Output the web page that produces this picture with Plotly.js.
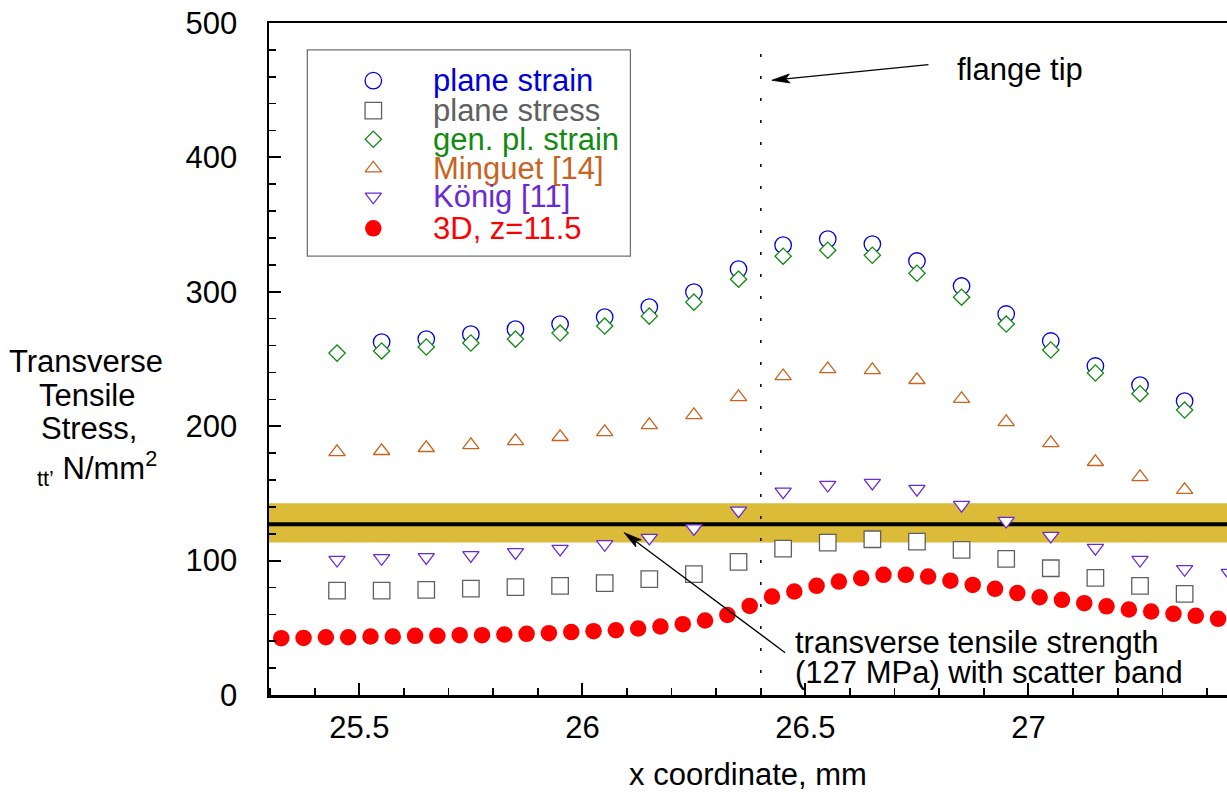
<!DOCTYPE html>
<html>
<head>
<meta charset="utf-8">
<script src="https://cdn.plot.ly/plotly-3.0.1.min.js"></script>
<style>html,body{margin:0;padding:0;background:#fff;}#chart{width:1227px;height:792px;}</style>
</head>
<body>
<div id="chart"></div>
<script>
// ---------- data ----------
const seriesNames = ['plane strain', 'plane stress', 'gen. pl. strain', 'Minguet [14]', 'K\u00f6nig [11]', '3D, z=11.5'];
const seriesColors = ['#0000dd', '#606060', '#128a12', '#c8641e', '#6a2ad6', '#ff0000'];

const xCoord = [25.45, 25.55, 25.65, 25.75, 25.85, 25.95, 26.05, 26.15, 26.25, 26.35, 26.45,
                26.55, 26.65, 26.75, 26.85, 26.95, 27.05, 27.15, 27.25, 27.35, 27.45];
const planeStrain = [null, 262.6, 264.8, 268.5, 272.2, 276.0, 281.2, 288.6, 299.8, 316.9, 334.7,
                     339.2, 335.5, 322.9, 304.3, 283.5, 263.4, 244.8, 230.6, 218.7, null];
const planeStress = [77.7, 77.7, 78.2, 79.2, 80.2, 81.2, 83.2, 86.2, 89.9, 99.0, 108.9,
                     113.4, 115.9, 114.1, 108.0, 101.3, 94.3, 87.1, 81.2, 75.2, null];
const genPlStrain = [254.4, 256.0, 258.9, 261.9, 264.8, 269.3, 274.5, 281.9, 292.3, 309.4, 326.5,
                     330.9, 327.2, 313.8, 296.0, 276.0, 256.7, 239.6, 224.2, 212.0, null];
const minguet = [180.8, 181.6, 183.8, 186.0, 189.0, 192.0, 195.7, 200.9, 208.3, 221.7, 237.3,
                 242.5, 241.8, 234.4, 220.3, 203.1, 187.5, 173.4, 162.2, 152.6, null];
const konig = [100.5, 101.8, 102.5, 104.0, 106.2, 108.7, 112.2, 116.9, 124.0, 137.2, 151.3,
               156.3, 157.8, 153.3, 141.4, 129.5, 118.4, 109.4, 100.5, 93.6, 90.8];

const x3D = [25.325, 25.375, 25.425, 25.475, 25.525, 25.575, 25.625, 25.675, 25.725, 25.775,
             25.825, 25.875, 25.925, 25.975, 26.025, 26.075, 26.125, 26.175, 26.225, 26.275,
             26.325, 26.375, 26.425, 26.475, 26.525, 26.575, 26.625, 26.675, 26.725, 26.775,
             26.825, 26.875, 26.925, 26.975, 27.025, 27.075, 27.125, 27.175, 27.225, 27.275,
             27.325, 27.375, 27.425];
const y3D = [42.3, 42.5, 43.0, 43.0, 43.5, 43.5, 44.0, 44.0, 44.5, 44.5,
             45.0, 45.5, 46.0, 46.8, 47.5, 48.2, 49.5, 51.0, 52.7, 55.4,
             59.6, 66.3, 73.2, 77.0, 81.2, 84.4, 86.9, 89.4, 89.4, 88.1,
             85.1, 81.9, 79.0, 75.8, 72.7, 70.8, 68.3, 66.0, 63.6, 62.1,
             60.4, 58.9, 56.7];

const strength = 127;          // MPa
const bandLow = 113.4, bandHigh = 142.7;
const flangeTipX = 26.4;

const xTickVals = [25.5, 26, 26.5, 27];
const xTickText = ['25.5', '26', '26.5', '27'];
const yTickVals = [0, 100, 200, 300, 400, 500];
const yTickText = ['0', '100', '200', '300', '400', '500'];

// ---------- styling ----------
const FONT = 'Liberation Sans, Arial, Helvetica, sans-serif';
const FS = 31;
const XRANGE = [25.2975, 27.445], YRANGE = [0, 500];
const PLOT_W = 958, PLOT_H = 672;
const symbols = ['circle-open', 'square-open', 'diamond-open', 'triangle-up-open', 'triangle-down-open', 'circle'];
const msizes = [16.5, 16.5, 12.5, 14.2, 14.2, 16.5];

function openTrace(i, xs, ys, xa, ya) {
  const filled = symbols[i] === 'circle';
  return {
    type: 'scatter', mode: 'markers', x: xs, y: ys, name: seriesNames[i],
    xaxis: xa || 'x', yaxis: ya || 'y', showlegend: false, cliponaxis: true,
    hoverinfo: 'skip',
    marker: {
      symbol: filled ? 'circle' : symbols[i].replace('-open', ''),
      size: msizes[i],
      color: filled ? seriesColors[i] : '#ffffff',
      line: {color: seriesColors[i], width: filled ? 0 : 1.3}
    }
  };
}

const traces = [
  openTrace(0, xCoord, planeStrain),
  openTrace(1, xCoord, planeStress),
  openTrace(2, xCoord, genPlStrain),
  openTrace(3, xCoord, minguet),
  openTrace(4, xCoord, konig),
  openTrace(5, x3D, y3D)
];

// legend (drawn in its own small pixel-scaled overlay axes)
const legW = 324.3, legH = 207.4;
const legSymX = 66.6, legTextX = 124;
const legRows = [31.4, 61.4, 90.0, 119.0, 147.4, 179.0];
for (let i = 0; i < 6; i++) {
  traces.push(openTrace(i, [legSymX], [legRows[i]], 'x2', 'y2'));
}

const annotations = [];
for (let i = 0; i < 6; i++) {
  annotations.push({
    xref: 'x2', yref: 'y2', x: legTextX, y: legRows[i], xanchor: 'left', yanchor: 'middle',
    text: seriesNames[i], showarrow: false, font: {family: FONT, size: FS, color: seriesColors[i]}
  });
}

// y-axis title (multi-line, tight spacing)
const yTitleLines = [
  {t: 'Transverse', x: -0.191, y: 0.496, anchor: 'center'},
  {t: 'Tensile', x: -0.1895, y: 0.4464, anchor: 'center'},
  {t: 'Stress,', x: -0.1879, y: 0.3969, anchor: 'center'},
  {t: '<sub>tt\u2019</sub> N/mm<sup>2</sup>', x: -0.2443, y: 0.337, anchor: 'left'}
];
yTitleLines.forEach(l => annotations.push({
  xref: 'paper', yref: 'paper', x: l.x, y: l.y, xanchor: l.anchor, yanchor: 'middle',
  text: l.t, showarrow: false, font: {family: FONT, size: FS, color: '#000'}
}));

// text labels
annotations.push({
  xref: 'x', yref: 'y', x: 26.8356, y: 465.4, xanchor: 'left', yanchor: 'middle',
  text: 'flange tip', showarrow: false, font: {family: FONT, size: FS, color: '#000'}
});
annotations.push({
  xref: 'x', yref: 'y', x: 26.4724, y: 38.7, xanchor: 'left', yanchor: 'middle',
  text: 'transverse tensile strength', showarrow: false, font: {family: FONT, size: FS, color: '#000'}
});
annotations.push({
  xref: 'x', yref: 'y', x: 26.4724, y: 16.4, xanchor: 'left', yanchor: 'middle',
  text: '(127 MPa) with scatter band', showarrow: false, font: {family: FONT, size: FS, color: '#000'}
});

// arrows (line + filled head), given tail and head in data coordinates
const pxX = PLOT_W / (XRANGE[1] - XRANGE[0]);
const pxY = PLOT_H / (YRANGE[1] - YRANGE[0]);
function arrowShapes(tail, head) {
  const dxp = (head[0] - tail[0]) * pxX, dyp = (head[1] - tail[1]) * pxY;
  const L = Math.hypot(dxp, dyp);
  const ux = dxp / L, uy = dyp / L;            // unit vector (pixel space, y up)
  const len = 18, half = 4.5, notch = 4;
  const toData = (px, py) => [head[0] + px / pxX, head[1] + py / pxY];
  const b1 = toData(-ux * len - uy * half, -uy * len + ux * half);
  const b2 = toData(-ux * len + uy * half, -uy * len - ux * half);
  const nb = toData(-ux * (len - notch), -uy * (len - notch));
  return [
    {type: 'line', xref: 'x', yref: 'y', x0: tail[0], y0: tail[1], x1: nb[0], y1: nb[1],
     line: {color: '#000', width: 1.3}},
    {type: 'path', xref: 'x', yref: 'y',
     path: `M${head[0]},${head[1]} L${b1[0]},${b1[1]} L${nb[0]},${nb[1]} L${b2[0]},${b2[1]} Z`,
     fillcolor: '#000', line: {color: '#000', width: 0.8}}
  ];
}

const shapes = [
  {type: 'rect', xref: 'x domain', yref: 'y', x0: 0, x1: 1, y0: bandLow, y1: bandHigh,
   fillcolor: '#dbbb37', line: {width: 0}, layer: 'below'},
  {type: 'line', xref: 'x domain', yref: 'y', x0: 0, x1: 1, y0: strength, y1: strength,
   line: {color: '#000', width: 4}, layer: 'below'},
  {type: 'line', xref: 'x', yref: 'y domain', x0: flangeTipX, x1: flangeTipX, y0: 0, y1: 0.97,
   line: {color: '#000', width: 1.5, dash: '3px,19px'}, layer: 'below'},
  {type: 'rect', xref: 'x2', yref: 'y2', x0: 0, x1: legW, y0: 0, y1: legH,
   fillcolor: '#ffffff', line: {color: '#707070', width: 2.5}, layer: 'below'}
].concat(
  arrowShapes([26.7758, 469.1], [26.4247, 457.4]),
  arrowShapes([26.4545, 31.5], [26.0935, 120.8])
);

const layout = {
  width: 1227, height: 792,
  margin: {l: 269, r: 0, t: 23, b: 97, pad: 0},
  paper_bgcolor: '#ffffff', plot_bgcolor: 'rgba(0,0,0,0)',
  font: {family: FONT, size: FS, color: '#000'},
  showlegend: false,
  xaxis: {
    range: XRANGE, tickvals: xTickVals, ticktext: xTickText,
    ticks: 'inside', ticklen: 12, tickwidth: 2, tickcolor: '#000',
    minor: {dtick: 0.1, tick0: 25.5, ticks: 'inside', ticklen: 7, tickwidth: 1.6, tickcolor: '#000', showgrid: false},
    showline: true, linecolor: '#000', linewidth: 2.5, mirror: true,
    showgrid: false, zeroline: false, ticklabelstandoff: 3,
    tickfont: {family: FONT, size: FS, color: '#000'},
    title: {text: 'x coordinate, mm', font: {family: FONT, size: FS, color: '#000'}, standoff: 22}
  },
  yaxis: {
    range: YRANGE, tickvals: yTickVals, ticktext: yTickText,
    ticks: 'inside', ticklen: 12, tickwidth: 2, tickcolor: '#000',
    minor: {dtick: 20, tick0: 0, ticks: 'inside', ticklen: 7, tickwidth: 1.6, tickcolor: '#000', showgrid: false},
    showline: true, linecolor: '#000', linewidth: 2.5, mirror: false,
    showgrid: false, zeroline: false, ticklabelstandoff: 23,
    tickfont: {family: FONT, size: FS, color: '#000'}
  },
  xaxis2: {domain: [0.03935, 0.3779], range: [0, legW], anchor: 'y2', visible: false, fixedrange: true},
  yaxis2: {domain: [0.6522, 0.9609], range: [legH, 0], anchor: 'x2', visible: false, fixedrange: true},
  shapes: shapes,
  annotations: annotations
};

Plotly.newPlot('chart', traces, layout, {displayModeBar: false, staticPlot: true});
</script>
</body>
</html>
